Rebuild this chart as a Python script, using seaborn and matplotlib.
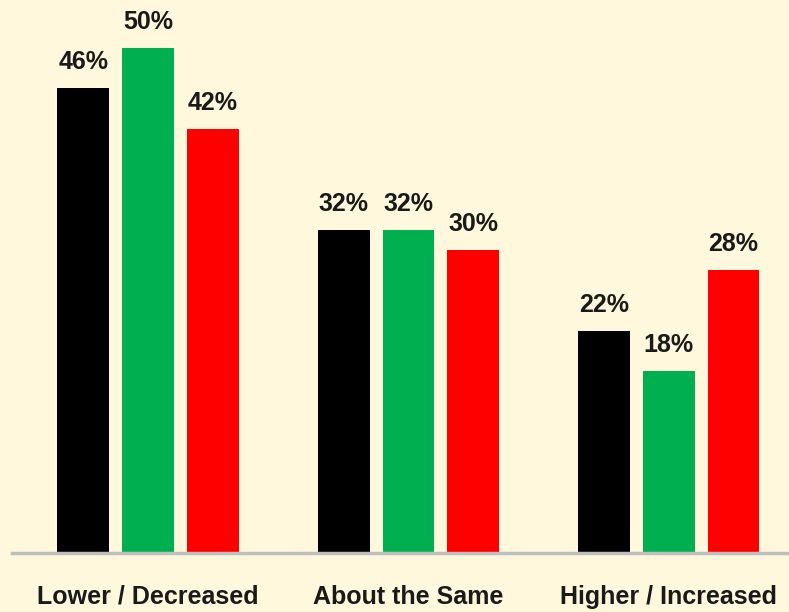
import matplotlib
matplotlib.use("Agg")
import matplotlib.pyplot as plt
import seaborn as sns
import pandas as pd

categories = ["Lower / Decreased", "About the Same", "Higher / Increased"]
series_names = ["Series A", "Series B", "Series C"]
series_a = [46, 32, 22]
series_b = [50, 32, 18]
series_c = [42, 30, 28]
colors = ["#000000", "#00B050", "#FF0000"]

rows = []
for name, vals in zip(series_names, [series_a, series_b, series_c]):
    for cat, v in zip(categories, vals):
        rows.append({"category": cat, "series": name, "value": v})
df = pd.DataFrame(rows)

sns.set_theme(style="white")
plt.rcParams["font.family"] = ["Liberation Sans", "DejaVu Sans"]

bg = "#FFF8DC"
fig = plt.figure(figsize=(7.89, 6.12), dpi=100, facecolor=bg)
ax = fig.add_axes([0, 59 / 612, 1, 553 / 612])
ax.set_facecolor(bg)

sns.barplot(data=df, x="category", y="value", hue="series", order=categories,
            hue_order=series_names, palette=colors, width=0.745, gap=0.2,
            saturation=1, legend=False, ax=ax, linewidth=0)

for container in ax.containers:
    ax.bar_label(container, labels=[f"{v:.0f}%" for v in container.datavalues],
                 padding=10, fontsize=18, fontweight="bold", color="#1a1a1a")

ax.set_xlim(-0.568, 2.461)
ax.set_ylim(0, 54.75)
ax.set_xlabel("")
ax.set_ylabel("")
ax.set_yticks([])
for s in ["top", "right", "left"]:
    ax.spines[s].set_visible(False)
ax.spines["bottom"].set_color("#BFBFBF")
ax.spines["bottom"].set_linewidth(2.5)
ax.spines["bottom"].set_bounds(-0.522, 2.461)
ax.tick_params(axis="x", length=0, pad=23)
for lbl in ax.get_xticklabels():
    lbl.set_fontsize(18)
    lbl.set_fontweight("bold")
    lbl.set_color("#1a1a1a")

fig.savefig("out.png", dpi=100, facecolor=bg)
